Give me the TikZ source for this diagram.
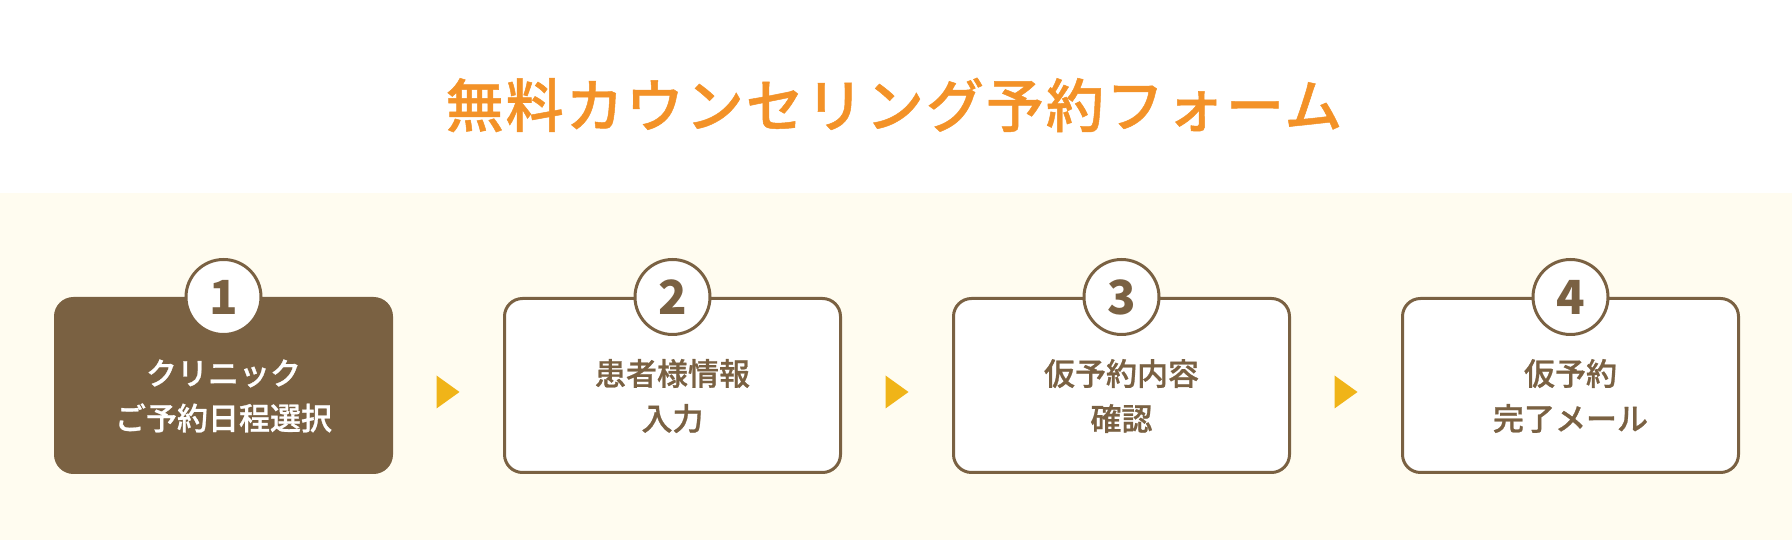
\documentclass[tikz,border=0pt]{standalone}
\usepackage{fontspec}
\usetikzlibrary{calc}
\newfontfamily\jp{Noto Sans CJK JP}
\newfontfamily\jpm{Noto Sans CJK JP Medium}[FakeBold=0.8]
\newfontfamily\jpt{Noto Sans CJK JP Medium}[LetterSpace=3.5,FakeBold=0.8]
\definecolor{brownc}{HTML}{7A6142}
\definecolor{creamc}{HTML}{FFFCF0}
\definecolor{orangec}{HTML}{F39228}
\definecolor{arrowc}{HTML}{F0B418}
\tikzset{
  stepbox/.style={draw=brownc, line width=3pt, fill=white, rounded corners=18pt,
    minimum width=336pt, minimum height=174pt, inner sep=0pt},
  activebox/.style={stepbox, fill=brownc},
  numcirc/.style={circle, draw=brownc, line width=3pt, fill=white, minimum size=75pt,
    inner sep=0pt, text=brownc, font=\jp\bfseries\fontsize{47}{47}\selectfont},
  steptext/.style={align=center, text=brownc, font=\jpm\fontsize{31}{45}\selectfont},
  activetext/.style={steptext, text=white},
  titletext/.style={text=orangec, font=\jpt\fontsize{58}{58}\selectfont, inner sep=0pt}
}
\begin{document}
\begin{tikzpicture}[x=1pt,y=1pt]
\useasboundingbox (0,0) rectangle (1792,540);
\fill[white] (0,0) rectangle (1792,540);
\fill[creamc] (0,0) rectangle (1792,347);
\node[titletext] (title) at (894,435) {無料カウンセリング予約フォーム};
% boxes
\node[activebox] (b1) at (223.5,154.5) {};
\node[stepbox] (b2) at (672.5,154.5) {};
\node[stepbox] (b3) at (1121.5,154.5) {};
\node[stepbox] (b4) at (1570.5,154.5) {};
% texts
\node[activetext] (t1) at (223.5,144) {クリニック\\ご予約日程選択};
\node[steptext] (t2) at (672.5,144) {患者様情報\\入力};
\node[steptext] (t3) at (1121.5,144) {仮予約内容\\確認};
\node[steptext] (t4) at (1570.5,144) {仮予約\\完了メール};
% number circles
\node[numcirc] (n1) at (b1.north) {1};
\node[numcirc] (n2) at (b2.north) {2};
\node[numcirc] (n3) at (b3.north) {3};
\node[numcirc] (n4) at (b4.north) {4};
% arrows
\foreach \i/\j in {1/2,2/3,3/4}{
  \coordinate (a\i) at ($(b\i.east)!0.5!(b\j.west)+(0,-6.5)$);
  \fill[arrowc] ($(a\i)+(-11.5,16.5)$) -- ($(a\i)+(11.5,0)$) -- ($(a\i)+(-11.5,-16.5)$) -- cycle;
}
\end{tikzpicture}
\end{document}
